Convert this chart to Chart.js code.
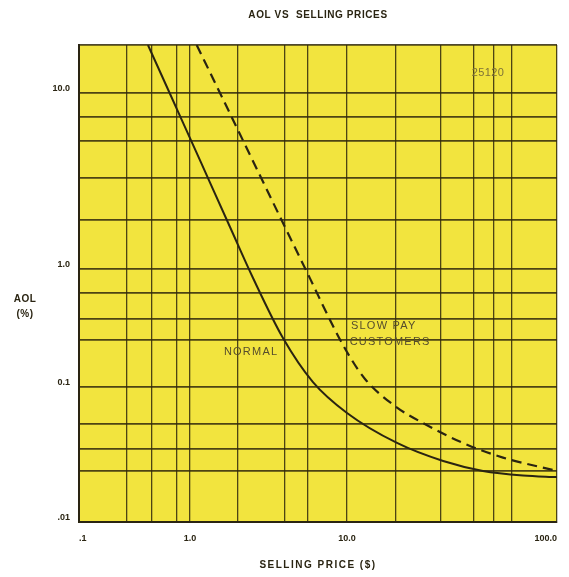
<!DOCTYPE html>
<html><head><meta charset="utf-8">
<script src="https://cdn.jsdelivr.net/npm/chart.js@4.4.1/dist/chart.umd.min.js"></script>
<style>html,body{margin:0;padding:0;background:#fff;} #wrap{width:569px;height:577px;}</style>
</head><body><div id="wrap"><canvas id="c" width="569" height="577"></canvas></div>
<script>
// ---- data ----
const chartTitle = 'AOL VS  SELLING PRICES';
const xAxisTitle = 'SELLING PRICE ($)';
const yAxisTitle = ['AOL', '(%)'];
const xTickValues = [0.1, 1, 10, 100];
const xTickLabels = ['.1', '1.0', '10.0', '100.0'];
const yTickValues = [0.01, 0.1, 1, 10];
const yTickLabels = ['.01', '0.1', '1.0', '10.0'];
const xGridValues = [0.1, 0.27, 0.45, 0.76, 1, 2, 4, 5.6, 10, 17, 28, 40, 50, 61, 100];
const yGridValues = [0.01, 0.024, 0.035, 0.053, 0.1, 0.25, 0.38, 0.63, 1, 1.9, 3.3, 5.3, 7.3, 10, 19];
const normalPrice = [0.418, 0.66, 1.0, 1.341, 1.798, 2.52, 3.91, 6.07, 10, 17.3, 28.7, 44.4, 68.9, 100];
const normalAOL   = [19, 9.86, 5.53, 3.09, 1.73, 0.839, 0.26, 0.11, 0.0642, 0.0385, 0.0283, 0.0239, 0.0221, 0.0215];
const slowPrice = [1.103, 1.553, 2.41, 3.74, 5.81, 8.39, 10.33, 12.18, 16.9, 23.0, 35.7, 55.3, 100];
const slowAOL   = [19, 9.96, 4.44, 1.98, 0.833, 0.304, 0.1796, 0.1169, 0.0723, 0.0541, 0.0385, 0.03, 0.0239];
const seriesNames = ['NORMAL', 'SLOW PAY CUSTOMERS'];
// annotation anchors (data space)
const notes = [
  {text: 'NORMAL', x: 2.45, y: 0.198, align: 'center'},
  {text: 'SLOW PAY', x: 10.45, y: 0.329, align: 'left'},
  {text: 'CUSTOMERS', x: 10.3, y: 0.241, align: 'left'},
  {text: '25120', x: 46.9, y: 13.0, align: 'center', light: true}
];

// ---- hand-drawn (non-uniform) log scale: each decade has its own share of the axis ----
const WARP = {
  x: {breaks: [0.1, 1, 10, 100], spans: [111, 157, 210]},
  y: {breaks: [0.01, 0.1, 1, 10, 19], spans: [135, 118, 176.3, 47.7]}
};
function warpFrac(w, v) {
  const lv = Math.log10(v);
  const total = w.spans.reduce((a, b) => a + b, 0);
  let acc = 0;
  for (let i = 0; i < w.spans.length; i++) {
    const a = Math.log10(w.breaks[i]), b = Math.log10(w.breaks[i + 1]);
    if (lv <= b || i === w.spans.length - 1) { acc += (lv - a) / (b - a) * w.spans[i]; break; }
    acc += w.spans[i];
  }
  return acc / total;
}
function warpValue(w, f) {
  const total = w.spans.reduce((a, b) => a + b, 0);
  let px = f * total;
  for (let i = 0; i < w.spans.length; i++) {
    const a = Math.log10(w.breaks[i]), b = Math.log10(w.breaks[i + 1]);
    if (px <= w.spans[i] || i === w.spans.length - 1) return Math.pow(10, a + px / w.spans[i] * (b - a));
    px -= w.spans[i];
  }
}
class WarpLogScale extends Chart.LogarithmicScale {
  getPixelForValue(value) {
    if (value == null || isNaN(value) || value <= 0) return NaN;
    return this.getPixelForDecimal(warpFrac(WARP[this.axis], value));
  }
  getValueForPixel(pixel) {
    return warpValue(WARP[this.axis], this.getDecimalForPixel(pixel));
  }
}
WarpLogScale.id = 'warplog';
WarpLogScale.defaults = Chart.LogarithmicScale.defaults;
Chart.register(WarpLogScale);

const INK = '#2a2412';
const GRID = 'rgba(48,40,12,0.85)';
const YELLOW = 'rgb(242,228,62)';
const FONT = "'Liberation Sans', Arial, sans-serif";

const textPlugin = {
  id: 'texts',
  beforeDraw(chart) {
    const {ctx, chartArea: a} = chart;
    ctx.save();
    ctx.fillStyle = '#ffffff';
    ctx.fillRect(0, 0, chart.width, chart.height);
    ctx.fillStyle = YELLOW;
    ctx.fillRect(a.left, a.top, a.right - a.left, a.bottom - a.top);
    ctx.restore();
  },
  afterDraw(chart) {
    const {ctx, chartArea: a} = chart;
    const xs = chart.scales.x, ys = chart.scales.y;
    ctx.save();
    ctx.fillStyle = INK;
    ctx.textAlign = 'center';
    ctx.textBaseline = 'middle';
    ctx.font = 'bold 10px ' + FONT;
    ctx.letterSpacing = '0.6px';
    ctx.fillText(chartTitle, 318, 15);
    ctx.letterSpacing = '1.5px';
    ctx.fillText(xAxisTitle, (a.left + a.right) / 2, 565);
    ctx.letterSpacing = '0.5px';
    ctx.fillText(yAxisTitle[0], 25, 299);
    ctx.fillText(yAxisTitle[1], 25, 314);
    notes.forEach(n => {
      ctx.font = '11px ' + FONT;
      ctx.letterSpacing = n.light ? '0.4px' : '1.2px';
      ctx.fillStyle = n.light ? '#7d7238' : '#564d2c';
      ctx.textAlign = n.align;
      ctx.fillText(n.text, xs.getPixelForValue(n.x), ys.getPixelForValue(n.y));
    });
    ctx.restore();
  }
};

function makeTicks(values, majors) {
  return function (scale) {
    scale.ticks = values.map(v => ({value: v, major: majors.includes(v)}));
  };
}

new Chart(document.getElementById('c'), {
  type: 'line',
  data: {
    datasets: [
      {
        label: seriesNames[0],
        data: normalPrice.map((p, i) => ({x: p, y: normalAOL[i]})),
        borderColor: INK, borderWidth: 2, pointRadius: 0,
        cubicInterpolationMode: 'monotone', fill: false
      },
      {
        label: seriesNames[1],
        data: slowPrice.map((p, i) => ({x: p, y: slowAOL[i]})),
        borderColor: INK, borderWidth: 2.2, borderDash: [10, 6], pointRadius: 0,
        cubicInterpolationMode: 'monotone', fill: false
      }
    ]
  },
  options: {
    responsive: false,
    animation: false,
    events: [],
    layout: {padding: {top: 45, right: 12, bottom: 0, left: 0}},
    plugins: {legend: {display: false}, tooltip: {enabled: false}, title: {display: false}},
    scales: {
      x: {
        type: 'warplog',
        min: 0.1, max: 100,
        afterBuildTicks: makeTicks(xGridValues, xTickValues),
        afterFit(s) { s.height = 55; },
        grid: {color: GRID, lineWidth: 1.3, drawTicks: false},
        border: {display: true, color: INK, width: 2},
        ticks: {
          autoSkip: false, maxRotation: 0, minRotation: 0, align: 'inner', padding: 11,
          color: INK, font: {family: FONT, size: 9, weight: 'bold'},
          callback(v) { const i = xTickValues.indexOf(v); return i >= 0 ? xTickLabels[i] : ''; }
        }
      },
      y: {
        type: 'warplog',
        min: 0.01, max: 19,
        afterBuildTicks: makeTicks(yGridValues, yTickValues),
        afterFit(s) { s.width = 79; },
        grid: {color: GRID, lineWidth: 1.8, drawTicks: false},
        border: {display: true, color: INK, width: 2},
        ticks: {
          autoSkip: false, padding: 9, labelOffset: -4,
          color: INK, font: {family: FONT, size: 9, weight: 'bold'},
          callback(v) { const i = yTickValues.indexOf(v); return i >= 0 ? yTickLabels[i] : ''; }
        }
      }
    }
  },
  plugins: [textPlugin]
});
</script>
</body></html>
